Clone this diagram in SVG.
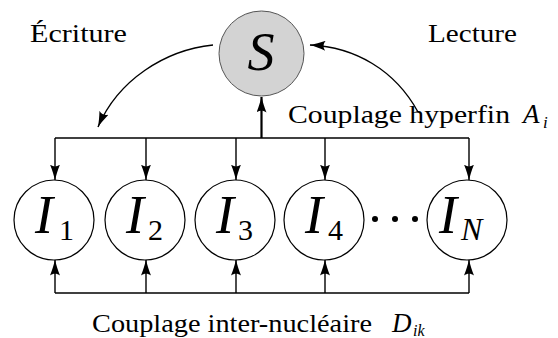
<svg xmlns="http://www.w3.org/2000/svg" width="558" height="338" viewBox="0 0 558 338">
<style>
text{font-family:'Liberation Serif','Times New Roman',serif !important}
</style>
<defs>
<marker id="ah" viewBox="0 0 16 10" refX="15.5" refY="5" markerWidth="16" markerHeight="10" markerUnits="userSpaceOnUse" orient="auto">
<path d="M16,5 C11,6 5,8 0,10 C2.5,7 2.5,3 0,0 C5,2 11,4 16,5 Z" fill="#000"/>
</marker>
</defs>
<rect width="558" height="338" fill="#fff"/>
<g id="connectors" stroke="#000" stroke-width="1.4" fill="none">
<path d="M55,138 H469" stroke-width="1.6"/>
<path d="M261.5,138 V97" stroke-width="2.2" marker-end="url(#ah)"/>
<path d="M55,138 V180" marker-end="url(#ah)"/>
<path d="M146,138 V180" marker-end="url(#ah)"/>
<path d="M236,138 V180" marker-end="url(#ah)"/>
<path d="M325,138 V180" marker-end="url(#ah)"/>
<path d="M469,138 V180" marker-end="url(#ah)"/>
<path d="M55,293 H469"/>
<path d="M55,293 V260" marker-end="url(#ah)"/>
<path d="M146,293 V260" marker-end="url(#ah)"/>
<path d="M236,293 V260" marker-end="url(#ah)"/>
<path d="M325,293 V260" marker-end="url(#ah)"/>
<path d="M469,293 V260" marker-end="url(#ah)"/>
<path d="M213,45 C165,50 118,80 98,127" marker-end="url(#ah)"/>
<path d="M418,112 C395,70 355,47 310,45" marker-end="url(#ah)"/>
</g>
<g id="S">
<circle cx="261.5" cy="53.5" r="42.5" fill="#d3d3d3" stroke="#555" stroke-width="1"/>
<text font-family="Liberation Serif" font-style="italic" x="261" y="70" font-size="54" text-anchor="middle">S</text>
</g>
<g id="I1" transform="translate(54,220)">
<circle r="40" fill="#fff" stroke="#000" stroke-width="1.2"/>
<text font-family="Liberation Serif" font-style="italic" x="-19" y="13" font-size="54">I</text>
<text font-family="Liberation Serif" x="5" y="20" font-size="30">1</text>
</g>
<g id="I2" transform="translate(145,220)">
<circle r="40" fill="#fff" stroke="#000" stroke-width="1.2"/>
<text font-family="Liberation Serif" font-style="italic" x="-19" y="13" font-size="54">I</text>
<text font-family="Liberation Serif" x="3" y="20" font-size="30">2</text>
</g>
<g id="I3" transform="translate(235,220)">
<circle r="40" fill="#fff" stroke="#000" stroke-width="1.2"/>
<text font-family="Liberation Serif" font-style="italic" x="-19" y="13" font-size="54">I</text>
<text font-family="Liberation Serif" x="3" y="20" font-size="30">3</text>
</g>
<g id="I4" transform="translate(324,220)">
<circle r="40" fill="#fff" stroke="#000" stroke-width="1.2"/>
<text font-family="Liberation Serif" font-style="italic" x="-19" y="13" font-size="54">I</text>
<text font-family="Liberation Serif" x="4" y="20" font-size="30">4</text>
</g>
<g id="dots" fill="#000">
<circle cx="375" cy="219" r="3"/>
<circle cx="395" cy="219" r="3"/>
<circle cx="415" cy="219" r="3"/>
</g>
<g id="IN" transform="translate(467,220)">
<circle r="40" fill="#fff" stroke="#000" stroke-width="1.2"/>
<text font-family="Liberation Serif" font-style="italic" x="-28" y="13" font-size="54">I</text>
<text font-family="Liberation Serif" font-style="italic" x="-6" y="20" font-size="32">N</text>
</g>
<g id="labels" fill="#000">
<text font-family="Liberation Serif" x="30" y="42" font-size="25" textLength="97" lengthAdjust="spacingAndGlyphs">&#201;criture</text>
<text font-family="Liberation Serif" x="428" y="42" font-size="25" textLength="89" lengthAdjust="spacingAndGlyphs">Lecture</text>
<text font-family="Liberation Serif" x="288" y="123" font-size="25" textLength="222" lengthAdjust="spacingAndGlyphs">Couplage hyperfin</text>
<text font-family="Liberation Serif" font-style="italic" x="523" y="123" font-size="27">A</text>
<text font-family="Liberation Serif" font-style="italic" x="543" y="128" font-size="17">i</text>
<text font-family="Liberation Serif" x="92" y="332" font-size="25" textLength="280" lengthAdjust="spacingAndGlyphs">Couplage inter-nucl&#233;aire</text>
<text font-family="Liberation Serif" font-style="italic" x="392" y="332" font-size="27">D</text>
<text font-family="Liberation Serif" font-style="italic" x="413" y="336" font-size="16">ik</text>
</g>
</svg>
